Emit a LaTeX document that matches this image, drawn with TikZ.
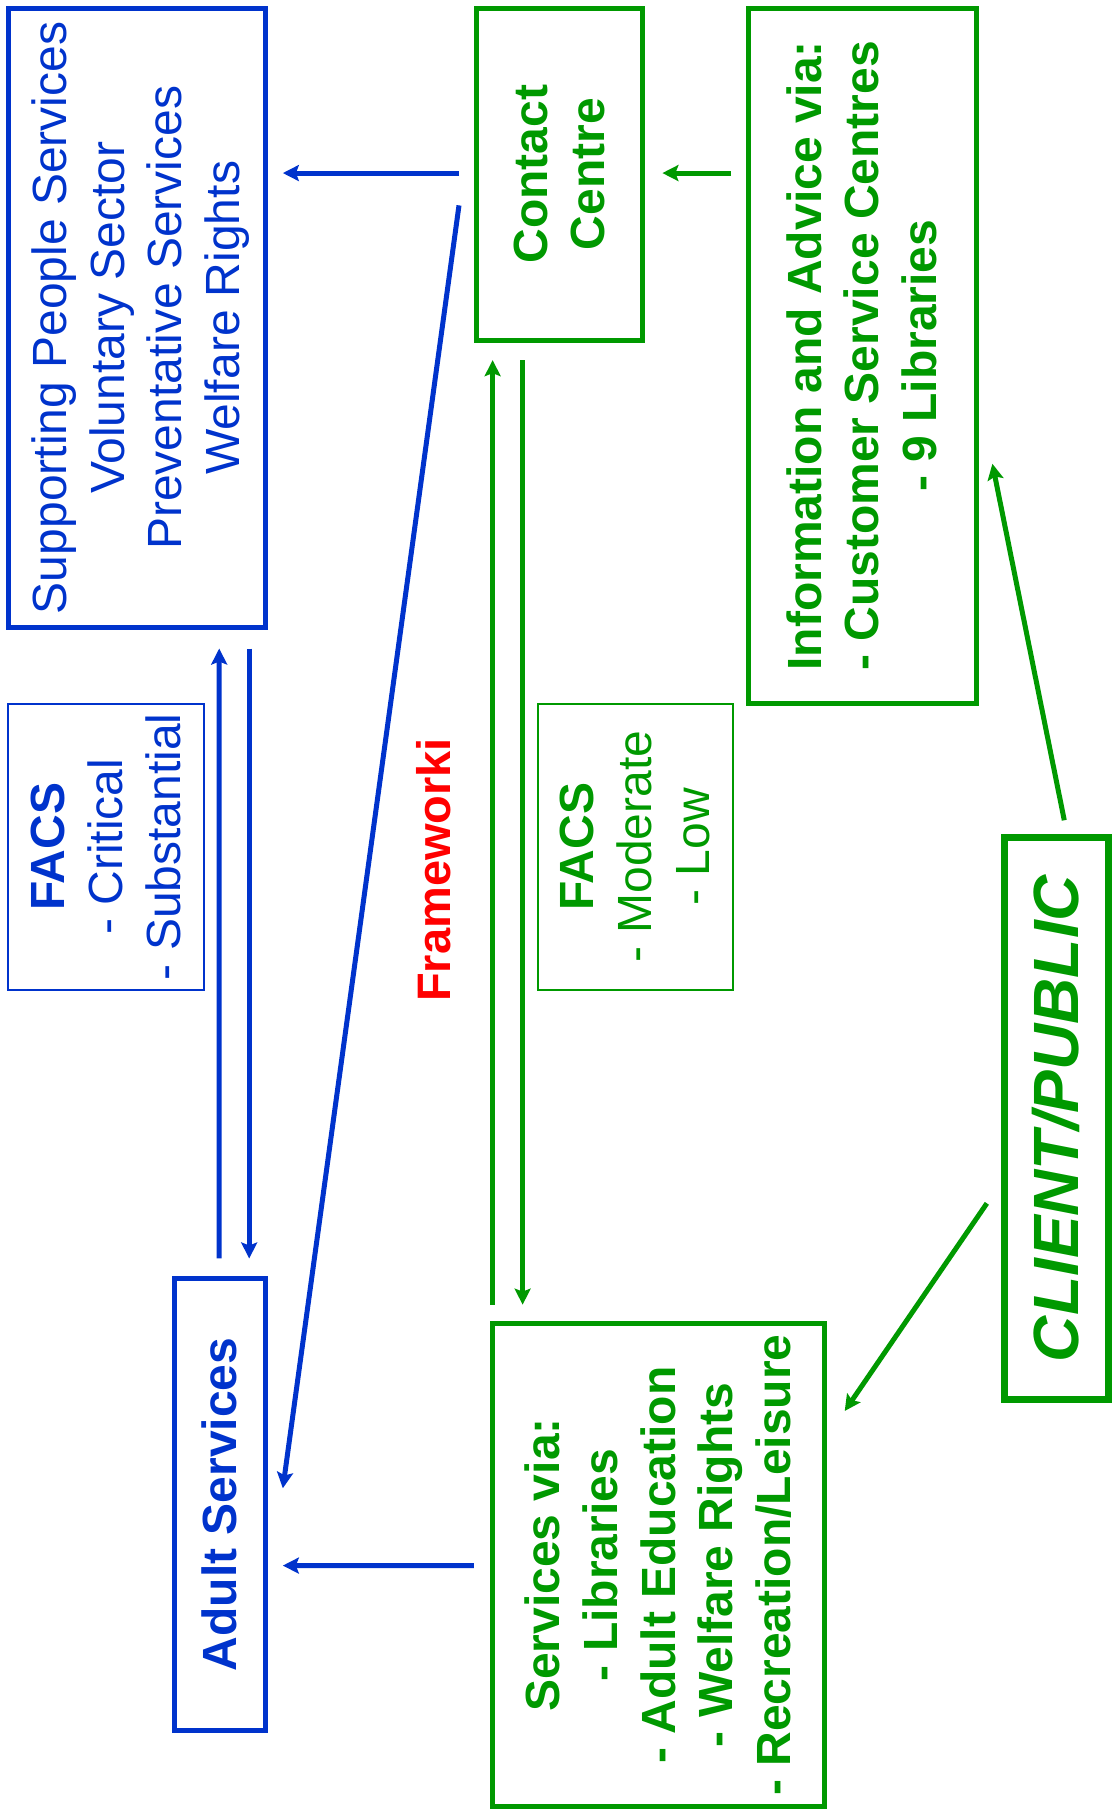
\documentclass[tikz,border=0pt]{standalone}
\usepackage{fontspec}
\setmainfont{Liberation Sans}
\usetikzlibrary{arrows.meta,calc}
\definecolor{pblue}{RGB}{0,51,204}
\definecolor{pgreen}{RGB}{0,153,0}
\definecolor{pred}{RGB}{255,0,0}
\newcommand{\rt}[1]{\rotatebox{90}{\begin{tabular}{@{}c@{}}\rule{0pt}{50pt}#1\end{tabular}}}
\begin{document}
\begin{tikzpicture}[x=1.1537pt,y=-1.1537pt,
  box/.style={draw, line width=5pt, inner sep=0pt, font=\fontsize{48}{57.7}\selectfont},
  thinbox/.style={draw, line width=2pt, inner sep=0pt, font=\fontsize{48}{57.7}\selectfont},
  arr/.style={line width=5pt, -{Stealth[length=16pt,width=16pt,inset=3pt]}}
]
\useasboundingbox (0,0) rectangle (963,1568);

% boxes
\node[box, pblue, minimum width=257.3pt, minimum height=619.5pt] (sup) at (118.5,275.5)
  {\rt{Supporting People Services\\Voluntary Sector\\Preventative Services\\Welfare Rights}};
\node[box, pgreen, minimum width=166.1pt, minimum height=332.3pt] (cc) at (485,151)
  {\rt{\bfseries Contact\\\bfseries Centre}};
\node[box, pgreen, minimum width=227.3pt, minimum height=695.7pt] (info) at (747.5,308.5)
  {\rt{\bfseries Information and Advice via:\\\bfseries - Customer Service Centres\\\bfseries - 9 Libraries}};
\node[thinbox, pblue, minimum width=196.1pt, minimum height=286.1pt] (facsa) at (92,734)
  {\rt{\bfseries FACS\\- Critical\\- Substantial}};
\node[thinbox, pgreen, minimum width=195pt, minimum height=286.1pt] (facsb) at (550.5,734)
  {\rt{\bfseries FACS\\- Moderate\\- Low}};
\node[box, pblue, minimum width=91.1pt, minimum height=452.3pt] (adult) at (190.5,1304)
  {\rt{\bfseries Adult Services}};
\node[box, pgreen, minimum width=332.3pt, minimum height=483.4pt] (svc) at (571,1356.5)
  {\rt{\bfseries Services via:\\\bfseries - Libraries\\\bfseries - Adult Education\\\bfseries - Welfare Rights\\\bfseries - Recreation/Leisure}};
\node[box, line width=7pt, pgreen, minimum width=104pt, minimum height=561.8pt] (client) at (915.5,969.5)
  {\rotatebox{90}{\bfseries\itshape\fontsize{64}{70}\selectfont CLIENT/PUBLIC}};
\node[text=pred, font=\bfseries\fontsize{47}{56}\selectfont, rotate=90, inner sep=0pt] (fw) at (376,754) {Frameworki};

% connectors
\draw[arr, pblue] ($(cc.west)+(-13,-1)$) -- ($(sup.east)+(13,-125.5)$);
\draw[arr, pgreen] ($(info.west)+(-13,-158.5)$) -- ($(cc.east)+(15,-1)$);
\draw[arr, pblue] ($(cc.west)+(-13,27)$) -- ($(adult.east)+(13,-14)$);
\draw[arr, pgreen] ($(svc.north)+(-144,-14)$) -- ($(cc.south)+(-58,15)$);
\draw[arr, pgreen] ($(cc.south)+(-32,15)$) -- ($(svc.north)+(-118,-14)$);
\draw[arr, pblue] ($(adult.north)+(-0.5,-15)$) -- ($(sup.south)+(71.5,16)$);
\draw[arr, pblue] ($(sup.south)+(97.5,16)$) -- ($(adult.north)+(25.5,-15)$);
\draw[arr, pblue] ($(svc.west)+(-14,0.5)$) -- ($(adult.east)+(13,53)$);
\draw[arr, pgreen] ($(client.north)+(7,-12)$) -- ($(info.east)+(12,93.5)$);
\draw[arr, pgreen] ($(client.west)+(-12,73.5)$) -- ($(svc.east)+(15,-133.5)$);
\end{tikzpicture}
\end{document}
